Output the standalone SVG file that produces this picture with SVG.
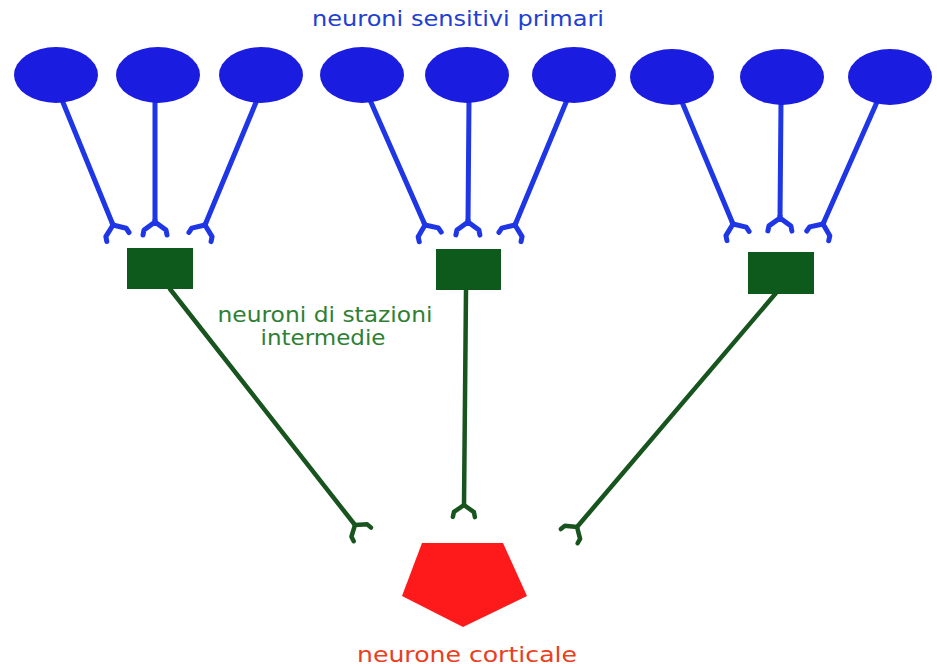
<svg xmlns="http://www.w3.org/2000/svg" width="937" height="666" viewBox="0 0 937 666">
<defs>
<style>
.sens{fill:#1a1ce0}
.blue{stroke:#1e36e6;stroke-width:5;fill:none;stroke-linecap:round}
.green{stroke:#17541e;stroke-width:4.5;fill:none;stroke-linecap:round}
.box{fill:#0d5a1c}
.txt{font-family:"DejaVu Sans","Liberation Sans",sans-serif;font-size:21px}
</style>
<marker id="forkB" markerUnits="userSpaceOnUse" orient="auto" viewBox="-3 -16 22 32" refX="0" refY="0" markerWidth="22" markerHeight="32">
<path d="M-2,0 L0,0 M0,0 L8,-11 L13,-12 M0,0 L8,11 L13,12" stroke="#1e36e6" stroke-width="5" fill="none" stroke-linejoin="round" stroke-linecap="round"/>
</marker>
<marker id="forkG" markerUnits="userSpaceOnUse" orient="auto" viewBox="-3 -16 22 32" refX="0" refY="0" markerWidth="22" markerHeight="32">
<path d="M0,0 L7,-10 L12,-11 M0,0 L7,10 L12,11" stroke="#17541e" stroke-width="4.5" fill="none" stroke-linejoin="round" stroke-linecap="round"/>
</marker>
</defs>
<rect width="937" height="666" fill="#ffffff"/>
<text class="txt" x="458" y="26" text-anchor="middle" fill="#2140d2" textLength="292" lengthAdjust="spacingAndGlyphs">neuroni sensitivi primari</text>
<g id="connectors">
<line class="blue" x1="62" y1="100" x2="113" y2="225" marker-end="url(#forkB)"/>
<line class="blue" x1="155" y1="100" x2="155" y2="222" marker-end="url(#forkB)"/>
<line class="blue" x1="257" y1="100" x2="205" y2="225" marker-end="url(#forkB)"/>
<line class="blue" x1="370" y1="100" x2="425" y2="225" marker-end="url(#forkB)"/>
<line class="blue" x1="469" y1="100" x2="468" y2="222" marker-end="url(#forkB)"/>
<line class="blue" x1="567" y1="100" x2="515" y2="225" marker-end="url(#forkB)"/>
<line class="blue" x1="682" y1="102" x2="733" y2="224" marker-end="url(#forkB)"/>
<line class="blue" x1="781" y1="102" x2="780" y2="218" marker-end="url(#forkB)"/>
<line class="blue" x1="877" y1="102" x2="823" y2="224" marker-end="url(#forkB)"/>
<line class="green" x1="170" y1="289" x2="355" y2="525" marker-end="url(#forkG)"/>
<line class="green" x1="466" y1="290" x2="464" y2="505" marker-end="url(#forkG)"/>
<line class="green" x1="776" y1="293" x2="577" y2="527" marker-end="url(#forkG)"/>
</g>
<g id="s1"><ellipse class="sens" cx="56" cy="75" rx="42" ry="28"/></g>
<g id="s2"><ellipse class="sens" cx="158" cy="75" rx="42" ry="28"/></g>
<g id="s3"><ellipse class="sens" cx="261" cy="75" rx="42" ry="28"/></g>
<g id="s4"><ellipse class="sens" cx="362" cy="75" rx="42" ry="28"/></g>
<g id="s5"><ellipse class="sens" cx="467" cy="75" rx="42" ry="28"/></g>
<g id="s6"><ellipse class="sens" cx="574" cy="75" rx="42" ry="28"/></g>
<g id="s7"><ellipse class="sens" cx="672" cy="77" rx="42" ry="28"/></g>
<g id="s8"><ellipse class="sens" cx="782" cy="77" rx="42" ry="28"/></g>
<g id="s9"><ellipse class="sens" cx="890" cy="77" rx="42" ry="28"/></g>
<g id="i1"><rect class="box" x="127" y="248" width="66" height="41"/></g>
<g id="i2"><rect class="box" x="436" y="249" width="65" height="41"/></g>
<g id="i3"><rect class="box" x="748" y="252" width="66" height="42"/></g>
<g id="intermediate-label">
<text class="txt" x="325" y="322" text-anchor="middle" fill="#2f7f34" textLength="215" lengthAdjust="spacingAndGlyphs">neuroni di stazioni</text>
<text class="txt" x="323" y="345" text-anchor="middle" fill="#2f7f34" textLength="125" lengthAdjust="spacingAndGlyphs">intermedie</text>
</g>
<g id="cortical">
<polygon points="422,543 503,543 527,596 463,627 402,596" fill="#fe1a1a"/>
<text class="txt" x="467" y="662" text-anchor="middle" fill="#e8401e" textLength="220" lengthAdjust="spacingAndGlyphs">neurone corticale</text>
</g>
</svg>
